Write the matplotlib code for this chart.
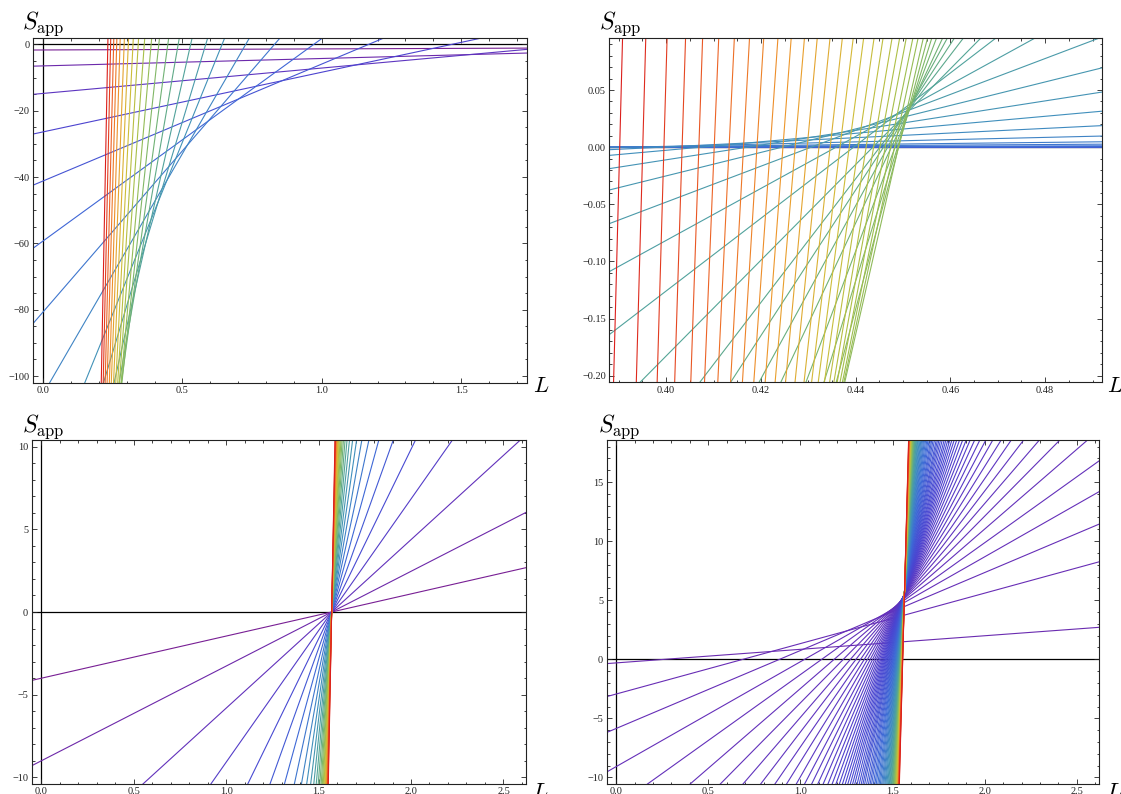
import matplotlib
matplotlib.use("Agg")
import matplotlib.pyplot as plt
from matplotlib.colors import LinearSegmentedColormap
from matplotlib.ticker import MultipleLocator, FuncFormatter

plt.rcParams["mathtext.fontset"] = "cm"
plt.rcParams["font.family"] = ["Liberation Serif", "DejaVu Serif"]

# ---------------- data ----------------
# Panel 1 (top left): each line passes through (L1,S1) and (L2,S2); ordered flattest -> steepest
p1_L1 = [0.0, 0.0, 0.0, 0.0, 0.0, 0.0, 0.0, 0.024, 0.150, 0.217, 0.255, 0.273, 0.281,
         0.283, 0.280, 0.274, 0.268, 0.261, 0.253, 0.245, 0.238, 0.230, 0.223, 0.216, 0.209]
p1_S1 = [-1.7, -6.5, -14.8, -26.4, -41.2, -59.3, -80.7, -102.0, -102.0, -102.0, -102.0,
         -102.0, -102.0, -102.0, -102.0, -102.0, -102.0, -102.0, -102.0, -102.0, -102.0,
         -102.0, -102.0, -102.0, -102.0]
p1_L2 = [1.734, 1.734, 1.734, 1.578, 1.225, 1.004, 0.851, 0.741, 0.652, 0.591, 0.535,
         0.489, 0.451, 0.418, 0.390, 0.365, 0.343, 0.324, 0.307, 0.292, 0.277, 0.265,
         0.254, 0.243, 0.233]
p1_S2 = [-1.14, -2.63, -1.53, 2.0, 2.0, 2.0, 2.0, 2.0, 2.0, 2.0, 2.0, 2.0, 2.0, 2.0, 2.0,
         2.0, 2.0, 2.0, 2.0, 2.0, 2.0, 2.0, 2.0, 2.0, 2.0]

# Panel 2 (top right): flattest -> steepest
p2_L1 = [0.3877, 0.3877, 0.3877, 0.3877, 0.3877, 0.3877, 0.3877, 0.3877, 0.3877, 0.3877,
         0.3877, 0.3877, 0.3877, 0.3877,
         0.3945, 0.4071, 0.4136, 0.4196, 0.4242, 0.4295, 0.4333, 0.4359,
         0.4377, 0.4375, 0.4372, 0.4367, 0.4361, 0.4354, 0.4345, 0.4334, 0.4321, 0.4307,
         0.4291, 0.4272, 0.4252, 0.4230, 0.4209, 0.4185, 0.4161, 0.4136, 0.4109, 0.4081,
         0.4052, 0.4018, 0.3981, 0.3937, 0.3889]
p2_S1 = [0.0, 0.0, 0.0, 0.0, 0.0, -0.0001, -0.0005, -0.0023, -0.0073, -0.019, -0.0378,
         -0.0674, -0.1096, -0.165,
         -0.2058, -0.2058, -0.2058, -0.2058, -0.2058, -0.2058, -0.2058, -0.2058,
         -0.2058, -0.2058, -0.2058, -0.2058, -0.2058, -0.2058, -0.2058, -0.2058, -0.2058,
         -0.2058, -0.2058, -0.2058, -0.2058, -0.2058, -0.2058, -0.2058, -0.2058, -0.2058,
         -0.2058, -0.2058, -0.2058, -0.2058, -0.2058, -0.2058, -0.2058]
p2_L2 = [0.4918, 0.4918, 0.4918, 0.4918, 0.4918, 0.4918, 0.4918, 0.4918, 0.4918, 0.4918,
         0.4918, 0.4918, 0.4780, 0.4697,
         0.4665, 0.4628, 0.4609, 0.4594, 0.4584, 0.4571, 0.4561, 0.4552,
         0.4543, 0.4532, 0.4521, 0.4507, 0.4493, 0.4477, 0.4458, 0.4439, 0.4417, 0.4395,
         0.4372, 0.4346, 0.4319, 0.4292, 0.4264, 0.4236, 0.4206, 0.4176, 0.4144, 0.4111,
         0.4077, 0.4041, 0.4002, 0.3957, 0.3908]
p2_S2 = [0.0, 0.0002, 0.0005, 0.0012, 0.0026, 0.0047, 0.0097, 0.0188, 0.0314, 0.0481,
         0.0692, 0.0961, 0.0958, 0.0958,
         0.0958, 0.0958, 0.0958, 0.0958, 0.0958, 0.0958, 0.0958, 0.0958,
         0.0958, 0.0958, 0.0958, 0.0958, 0.0958, 0.0958, 0.0958, 0.0958, 0.0958, 0.0958,
         0.0958, 0.0958, 0.0958, 0.0958, 0.0958, 0.0958, 0.0958, 0.0958, 0.0958, 0.0958,
         0.0958, 0.0958, 0.0958, 0.0958, 0.0958]

# Panel 3 (bottom left): all lines pass through (1.5708, 0)
p3_pivot = (1.5708, 0.0)
p3_slopes = [2.55, 5.73, 10.19, 15.92, 22.92, 31.19, 40.74, 51.57, 63.66, 77.03, 91.67,
             107.6, 124.8, 143.2, 163.0, 184.0, 206.3, 229.8, 254.6, 280.7, 308.1, 336.8,
             366.7, 397.9, 430.4, 464.1, 499.1, 535.4, 573.0]

# Panel 4 (bottom right): slope and value at L = 1.565
p4_pivot_L = 1.565
p4_slopes = [1.149, 4.27, 6.6, 8.88, 11.16, 13.5, 15.8, 18.1, 20.4, 22.7, 25.0, 27.3, 29.6,
             31.9, 34.2, 36.5, 38.8, 41.1, 43.4, 45.7, 48.0, 50.3, 52.6, 55.0, 57.5, 60.0,
             63.0, 66.0, 69.0, 72.0, 75.0, 79.0, 83.0, 87.0, 91.0, 96.0, 101.0, 106.0,
             112.0, 118.0, 124.0, 131.0, 138.0, 145.0, 153.0, 161.0, 170.0, 179.0, 188.0,
             198.0, 208.0, 219.0, 230.0, 242.0, 254.0, 267.0, 280.0, 294.0, 308.0, 323.0,
             338.0, 354.0, 370.0, 387.0, 404.0, 422.0, 440.0, 459.0, 478.0, 498.0, 518.0,
             539.0, 560.0, 580.0]
p4_pivot_S = [1.49, 3.74, 4.47, 4.81, 5.01, 5.15, 5.24, 5.31, 5.37, 5.41, 5.45, 5.48, 5.50,
              5.52, 5.54, 5.56, 5.57, 5.59, 5.60, 5.61, 5.62, 5.63, 5.63, 5.64, 5.65, 5.65,
              5.66, 5.67, 5.67, 5.68, 5.68, 5.69, 5.69, 5.70, 5.70, 5.71, 5.71, 5.72,
              5.72, 5.73, 5.73, 5.73, 5.74, 5.74, 5.74, 5.75, 5.75, 5.75, 5.75,
              5.76, 5.76, 5.76, 5.76, 5.76, 5.77, 5.77, 5.77, 5.77, 5.77, 5.77,
              5.77, 5.78, 5.78, 5.78, 5.78, 5.78, 5.78, 5.78, 5.78, 5.78, 5.78,
              5.78, 5.78, 5.78]

# ---------------- style ----------------
stops = [(0.00, (0.47, 0.12, 0.58)), (0.06, (0.40, 0.18, 0.72)), (0.13, (0.29, 0.27, 0.82)),
         (0.22, (0.24, 0.42, 0.84)), (0.32, (0.25, 0.56, 0.74)), (0.42, (0.32, 0.64, 0.60)),
         (0.52, (0.47, 0.71, 0.43)), (0.62, (0.64, 0.75, 0.29)), (0.72, (0.82, 0.74, 0.22)),
         (0.82, (0.93, 0.60, 0.17)), (0.91, (0.93, 0.40, 0.15)), (1.00, (0.86, 0.12, 0.11))]
cmap = LinearSegmentedColormap.from_list("mma_rainbow", stops)

LW = 0.8
FRAME = "#222222"


def fmt(dec):
    def f(v, pos):
        if abs(v) < 1e-9:
            v = 0.0
        s = f"{v:.{dec}f}"
        return s.replace("-", "\u2212")
    return FuncFormatter(f)


def style(ax, xlim, ylim, xmaj, xmin, ymaj, ymin, xdec, ydec):
    ax.set_xlim(*xlim)
    ax.set_ylim(*ylim)
    ax.xaxis.set_major_locator(MultipleLocator(xmaj))
    ax.xaxis.set_minor_locator(MultipleLocator(xmin))
    ax.yaxis.set_major_locator(MultipleLocator(ymaj))
    ax.yaxis.set_minor_locator(MultipleLocator(ymin))
    ax.xaxis.set_major_formatter(fmt(xdec))
    ax.yaxis.set_major_formatter(fmt(ydec))
    ax.tick_params(which="both", direction="in", top=True, right=True,
                   colors=FRAME, width=0.6, labelsize=7.4, pad=2.5)
    ax.tick_params(which="major", length=3.4)
    ax.tick_params(which="minor", length=1.8)
    for sp in ax.spines.values():
        sp.set_color(FRAME)
        sp.set_linewidth(0.8)


fig = plt.figure(figsize=(11.21, 7.94), dpi=100)
ax1 = fig.add_axes([0.02971, 0.51801, 0.44014, 0.43451])
ax2 = fig.add_axes([0.54353, 0.51851, 0.43952, 0.43401])
ax3 = fig.add_axes([0.02828, 0.01259, 0.44095, 0.43325])
ax4 = fig.add_axes([0.54122, 0.01259, 0.43943, 0.43325])

# Panel 1
style(ax1, (-0.0347, 1.7347), (-102.0, 2.0), 0.5, 0.1, 20, 5, 1, 0)
ax1.axhline(0, color="black", lw=0.9, zorder=1)
ax1.axvline(0, color="black", lw=0.9, zorder=1)
n1 = len(p1_L1)
for i in range(n1):
    ax1.axline((p1_L1[i], p1_S1[i]), (p1_L2[i], p1_S2[i]),
               color=cmap(i / (n1 - 1)), lw=LW, zorder=2)

# Panel 2
style(ax2, (0.388, 0.492), (-0.2058, 0.0958), 0.02, 0.005, 0.05, 0.01, 2, 2)
ax2.axhline(0, color="black", lw=0.9, zorder=1)
n2 = len(p2_L1)
for i in range(n2):
    ax2.axline((p2_L1[i], p2_S1[i]), (p2_L2[i], p2_S2[i]),
               color=cmap(0.18 + 0.82 * i / (n2 - 1)), lw=LW, zorder=2)

# Panel 3
style(ax3, (-0.0514, 2.622), (-10.4, 10.4), 0.5, 0.1, 5, 1, 1, 0)
ax3.axhline(0, color="black", lw=0.9, zorder=1)
ax3.axvline(0, color="black", lw=0.9, zorder=1)
n3 = len(p3_slopes)
for i, m in enumerate(p3_slopes):
    ax3.axline(p3_pivot, slope=m, color=cmap(i / (n3 - 1)), lw=LW, zorder=2)

# Panel 4
style(ax4, (-0.0514, 2.622), (-10.56, 18.56), 0.5, 0.1, 5, 1, 1, 0)
ax4.axhline(0, color="black", lw=0.9, zorder=1)
ax4.axvline(0, color="black", lw=0.9, zorder=1)
mlo, mhi = min(p4_slopes), max(p4_slopes)
for m, ps in zip(p4_slopes, p4_pivot_S):
    frac = 0.05 + 0.95 * (m - mlo) / (mhi - mlo)
    ax4.axline((p4_pivot_L, ps), slope=m, color=cmap(frac), lw=LW, zorder=2)

# Axis labels
for (x, y) in [(0.0194, 0.963), (0.5346, 0.963), (0.0194, 0.4563), (0.5337, 0.4563)]:
    fig.text(x, y, r"$S_{\mathrm{app}}$", fontsize=17, ha="left", va="baseline")
for (x, y) in [(0.4752, 0.5059), (0.9875, 0.5059), (0.4745, -0.0045), (0.9866, -0.0045)]:
    fig.text(x, y, r"$L$", fontsize=16, ha="left", va="baseline")

fig.savefig("out.png", dpi=100)
